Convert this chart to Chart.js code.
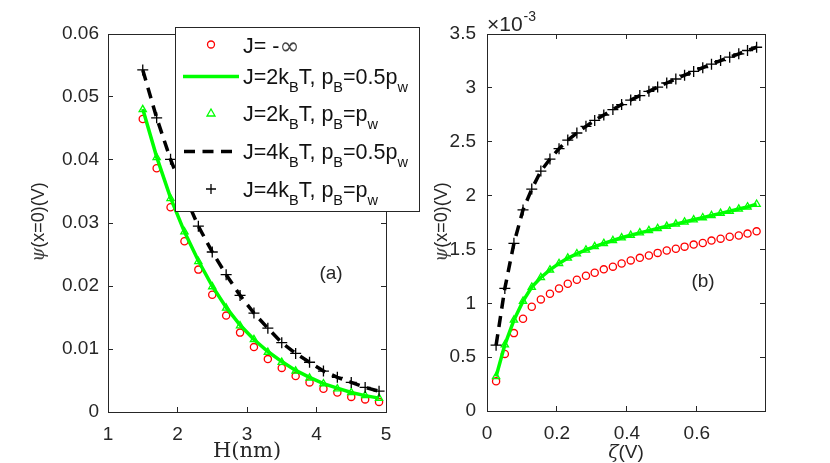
<!DOCTYPE html>
<html>
<head>
<meta charset="utf-8">
<title>psi(x=0) vs H and zeta</title>
<script src="https://cdn.jsdelivr.net/npm/chart.js@4.4.0/dist/chart.umd.min.js"></script>
<style>
  body { margin: 0; background: #fff; }
  #wrap { position: relative; width: 830px; height: 463px; }
  canvas { position: absolute; top: 0; }
  #left { left: 0; }
  #right { left: 415px; }
</style>
</head>
<body>
<div id="wrap">
  <canvas id="left" width="430" height="463"></canvas>
  <canvas id="right" width="415" height="463"></canvas>
</div>
<script>
// ---- panel (a): psi(x=0) [V] against H [nm]
const H = [1.5, 1.7, 1.9, 2.1, 2.3, 2.5, 2.7, 2.9, 3.1, 3.3, 3.5, 3.7, 3.9, 4.1, 4.3, 4.5, 4.7, 4.9];
const aHard   = [0.0465, 0.0387, 0.0325, 0.0271, 0.0226, 0.0186, 0.0153, 0.0126, 0.0103, 0.0084, 0.0070, 0.0057, 0.0047, 0.0037, 0.0031, 0.0024, 0.0020, 0.0016];
const aJ2half = [0.0481, 0.0405, 0.0340, 0.0286, 0.0240, 0.0200, 0.0166, 0.0138, 0.0115, 0.0096, 0.0080, 0.0066, 0.0055, 0.0045, 0.0038, 0.0031, 0.0026, 0.0022];
const aJ2full = [0.0480, 0.0404, 0.0339, 0.0286, 0.0239, 0.0199, 0.0165, 0.0137, 0.0115, 0.0095, 0.0079, 0.0065, 0.0054, 0.0045, 0.0037, 0.0031, 0.0026, 0.0022];
const aJ4half = [0.0543, 0.0467, 0.0401, 0.0345, 0.0295, 0.0254, 0.0218, 0.0185, 0.0157, 0.0133, 0.0110, 0.0093, 0.0079, 0.0065, 0.0055, 0.0047, 0.0039, 0.0033];
const aJ4full = [0.0543, 0.0467, 0.0401, 0.0345, 0.0295, 0.0254, 0.0218, 0.0185, 0.0157, 0.0133, 0.0110, 0.0093, 0.0079, 0.0065, 0.0055, 0.0047, 0.0039, 0.0033];

// ---- panel (b): psi(x=0) in units of 1e-3 V against zeta [V]
const zeta = [0.026, 0.051, 0.077, 0.103, 0.128, 0.154, 0.180, 0.206, 0.231, 0.257, 0.283, 0.308, 0.334, 0.360, 0.385,
              0.411, 0.437, 0.463, 0.488, 0.514, 0.540, 0.565, 0.591, 0.617, 0.642, 0.668, 0.694, 0.720, 0.745, 0.771];
const bHard   = [0.276, 0.530, 0.723, 0.856, 0.968, 1.036, 1.089, 1.138, 1.182, 1.219, 1.256, 1.283, 1.315, 1.340, 1.370,
                 1.398, 1.422, 1.444, 1.468, 1.490, 1.506, 1.526, 1.545, 1.560, 1.582, 1.600, 1.618, 1.630, 1.647, 1.668];
const bJ2half = [0.320, 0.614, 0.844, 1.020, 1.150, 1.240, 1.310, 1.370, 1.420, 1.460, 1.495, 1.527, 1.556, 1.583, 1.608,
                 1.632, 1.654, 1.675, 1.695, 1.715, 1.735, 1.755, 1.775, 1.795, 1.815, 1.835, 1.855, 1.875, 1.895, 1.920];
const bJ2full = bJ2half.slice();
const bJ4half = [0.611, 1.138, 1.557, 1.867, 2.060, 2.227, 2.339, 2.435, 2.515, 2.581, 2.643, 2.698, 2.748, 2.798, 2.845,
                 2.887, 2.928, 2.968, 3.007, 3.045, 3.082, 3.118, 3.153, 3.187, 3.220, 3.253, 3.285, 3.316, 3.347, 3.377];
const bJ4full = bJ4half.slice();

// legend labels, "_X" = subscript X
const seriesNames = ['J= -\u221e', 'J=2k_BT, p_B=0.5p_w', 'J=2k_BT, p_B=p_w', 'J=4k_BT, p_B=0.5p_w', 'J=4k_BT, p_B=p_w'];

const AXIS = '#262626';
const SANS = '"Liberation Sans", Arial, Helvetica, sans-serif';
const SERIF = '"DejaVu Serif", "Liberation Serif", serif';
const RED = '#ff0000', GREEN = '#00ff00', BLACK = '#000000';

function pts(xs, ys) { return xs.map((x, i) => ({ x: x, y: ys[i] })); }
function fmt(v) { return String(Number(v.toFixed(4))); }

function axis(pos, min, max, step, size, labels, pad) {
  return {
    type: 'linear', position: pos, min: min, max: max,
    afterFit: function (s) {
      if (s.isHorizontal()) s.height = size; else s.width = size;
      s.paddingLeft = s.paddingRight = s.paddingTop = s.paddingBottom = 0;
    },
    border: { display: true, color: AXIS, width: 1 },
    grid: { drawOnChartArea: false, drawTicks: true, tickLength: -5, tickColor: AXIS, tickWidth: 1 },
    ticks: { display: labels, stepSize: step, includeBounds: false, padding: pad, color: AXIS,
             font: { family: SANS, size: 19 }, callback: fmt, maxRotation: 0, autoSkip: false }
  };
}

function sets(xs, hard, j2h, j2f, j4h, j4f) {
  return [
    { data: pts(xs, hard), showLine: false, pointStyle: 'circle', pointRadius: 3.6, pointBorderWidth: 1.3,
      pointBorderColor: RED, pointBackgroundColor: 'transparent', order: 5 },
    { data: pts(xs, j2h), borderColor: GREEN, borderWidth: 3.5, pointRadius: 0, order: 4 },
    { data: pts(xs, j2f), showLine: false, pointStyle: 'triangle', pointRadius: 4.2, pointBorderWidth: 1.3,
      pointBorderColor: GREEN, pointBackgroundColor: 'transparent', order: 3 },
    { data: pts(xs, j4h), borderColor: BLACK, borderWidth: 3.5, borderDash: [11, 7.5], pointRadius: 0, order: 2 },
    { data: pts(xs, j4f), showLine: false, pointStyle: 'cross', pointRadius: 5.5, pointBorderWidth: 1.3,
      pointBorderColor: BLACK, order: 1 }
  ];
}

// draws a run of text pieces centred on (x, y), optionally rotated
function rich(ctx, parts, x, y, rot) {
  ctx.save();
  ctx.translate(x, y);
  if (rot) ctx.rotate(rot);
  ctx.textBaseline = 'alphabetic';
  ctx.textAlign = 'left';
  let w = 0;
  parts.forEach(p => { ctx.font = p.font; p.w = ctx.measureText(p.t).width; w += p.w; });
  let cx = -w / 2;
  parts.forEach(p => {
    ctx.font = p.font; ctx.fillStyle = p.color || AXIS;
    ctx.fillText(p.t, cx, p.dy || 0);
    cx += p.w;
  });
  ctx.restore();
}

function psiLabel(ctx, x, y) {
  rich(ctx, [
    { t: '\u03c8', font: 'italic 18px ' + SERIF, dy: 6, color: '#444' },
    { t: '(x=0)(V)', font: '18px ' + SANS, dy: 6 }
  ], x, y, -Math.PI / 2);
}

function legendText(ctx, label, x, y) {
  let cx = x;
  const bits = label.split('_');
  bits.forEach((b, i) => {
    let main = b;
    if (i > 0) {
      ctx.font = '14.5px ' + SANS;
      ctx.fillText(b[0], cx, y + 8);
      cx += ctx.measureText(b[0]).width;
      main = b.slice(1);
    }
    ctx.font = '21.5px ' + SANS;
    if (main.indexOf('\u221e') >= 0) {
      const head = main.replace('\u221e', '');
      ctx.fillText(head, cx, y);
      cx += ctx.measureText(head).width;
      ctx.font = '24px "DejaVu Sans", sans-serif';
      ctx.fillStyle = '#444';
      ctx.fillText('\u221e', cx, y + 1);
      ctx.fillStyle = '#111';
      return;
    }
    ctx.fillText(main, cx, y);
    cx += ctx.measureText(main).width;
  });
}

const legendPlugin = {
  id: 'boxLegend',
  afterDraw(chart) {
    const ctx = chart.ctx;
    const L = 175, T = 27, R = 419, B = 211;
    const rows = [45.5, 76.5, 113.5, 151.5, 189];
    ctx.save();
    ctx.fillStyle = '#fff';
    ctx.fillRect(L, T, R - L, B - T);
    ctx.strokeStyle = AXIS; ctx.lineWidth = 1;
    ctx.strokeRect(L + 0.5, T + 0.5, R - L, B - T);
    const mx = 211;
    // samples
    ctx.lineWidth = 1.3; ctx.strokeStyle = RED;
    ctx.beginPath(); ctx.arc(mx, rows[0] - 1, 3.5, 0, 2 * Math.PI); ctx.stroke();
    ctx.lineWidth = 3.5; ctx.strokeStyle = GREEN;
    ctx.beginPath(); ctx.moveTo(183, rows[1]); ctx.lineTo(239, rows[1]); ctx.stroke();
    ctx.lineWidth = 1.3;
    ctx.beginPath(); ctx.moveTo(mx, rows[2] - 4.5); ctx.lineTo(mx + 4, rows[2] + 2.5); ctx.lineTo(mx - 4, rows[2] + 2.5); ctx.closePath(); ctx.stroke();
    ctx.lineWidth = 3.5; ctx.strokeStyle = BLACK; ctx.setLineDash([11, 7.5]);
    ctx.beginPath(); ctx.moveTo(184, rows[3]); ctx.lineTo(239, rows[3]); ctx.stroke();
    ctx.setLineDash([]); ctx.lineWidth = 1.3;
    ctx.beginPath(); ctx.moveTo(mx - 5, rows[4]); ctx.lineTo(mx + 5, rows[4]);
    ctx.moveTo(mx, rows[4] - 5); ctx.lineTo(mx, rows[4] + 5); ctx.stroke();
    // labels
    ctx.fillStyle = '#111'; ctx.textBaseline = 'alphabetic'; ctx.textAlign = 'left';
    seriesNames.forEach((s, i) => legendText(ctx, s, 243, rows[i] + 7.5));
    ctx.restore();
  }
};

const textLeft = {
  id: 'textLeft',
  afterDraw(chart) {
    const ctx = chart.ctx;
    psiLabel(ctx, 38, 222);
    rich(ctx, [{ t: 'H(nm)', font: '21px ' + SERIF, dy: 7 }], 247, 450);
    rich(ctx, [{ t: '(a)', font: '19px ' + SANS, dy: 7 }], 331, 272);
  }
};

const textRight = {
  id: 'textRight',
  afterDraw(chart) {
    const ctx = chart.ctx;
    psiLabel(ctx, 26, 222);
    rich(ctx, [{ t: '\u03b6', font: 'italic 19px ' + SERIF, dy: 7 }, { t: '(V)', font: '19px ' + SANS, dy: 7 }], 211, 451);
    rich(ctx, [{ t: '(b)', font: '19px ' + SANS, dy: 7 }], 288, 280);
    ctx.save();
    ctx.fillStyle = AXIS; ctx.textBaseline = 'alphabetic'; ctx.textAlign = 'left';
    ctx.font = '21px ' + SANS;
    ctx.fillText('\u00d710', 72, 31);
    const w = ctx.measureText('\u00d710').width;
    ctx.font = '14px ' + SANS; ctx.fillText('-3', 72 + w + 1, 21);
    ctx.restore();
  }
};

function baseOptions(padRight) {
  return {
    responsive: false, animation: false, events: [],
    layout: { padding: { left: 0, right: padRight, top: 34, bottom: 0 } },
    plugins: { legend: { display: false }, tooltip: { enabled: false } },
    elements: { line: { tension: 0, fill: false } }
  };
}

const optA = baseOptions(44);
optA.scales = {
  x: axis('bottom', 1, 5, 1, 51, true, 16),
  y: axis('left', 0, 0.06, 0.01, 108, true, 14),
  xTop: axis('top', 1, 5, 1, 0, false, 0),
  yRight: axis('right', 0, 0.06, 0.01, 0, false, 0)
};
new Chart(document.getElementById('left'), {
  type: 'line',
  data: { datasets: sets(H, aHard, aJ2half, aJ2full, aJ4half, aJ4full) },
  options: optA,
  plugins: [textLeft, legendPlugin]
});

const optB = baseOptions(65);
optB.scales = {
  x: axis('bottom', 0, 0.795, 0.2, 52, true, 16),
  y: axis('left', 0, 3.5, 0.5, 72, true, 16),
  xTop: axis('top', 0, 0.795, 0.2, 0, false, 0),
  yRight: axis('right', 0, 3.5, 0.5, 0, false, 0)
};
new Chart(document.getElementById('right'), {
  type: 'line',
  data: { datasets: sets(zeta, bHard, bJ2half, bJ2full, bJ4half, bJ4full) },
  options: optB,
  plugins: [textRight]
});
</script>
</body>
</html>
